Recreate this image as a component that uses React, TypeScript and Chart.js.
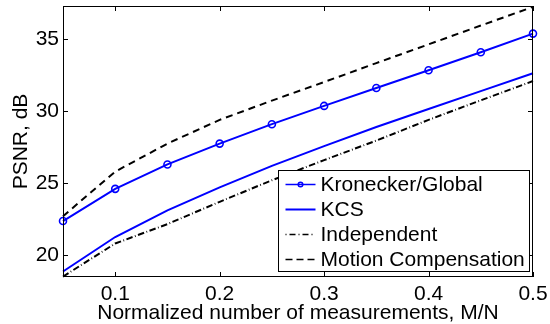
import React, { useEffect, useRef } from "react";
import { Chart, registerables } from "chart.js";

Chart.register(...registerables);

const xValues = [0.05, 0.1, 0.15, 0.2, 0.25, 0.3, 0.35, 0.4, 0.45, 0.5];
const kroneckerGlobal = [22.36, 24.6, 26.3, 27.75, 29.1, 30.37, 31.62, 32.85, 34.1, 35.4];
const kcs = [18.85, 21.25, 23.1, 24.7, 26.2, 27.57, 28.9, 30.16, 31.4, 32.64];
const independent = [18.5, 20.8, 22.15, 23.7, 25.2, 26.6, 27.96, 29.4, 30.76, 32.1];
const motionComp = [22.7, 25.8, 27.75, 29.4, 30.74, 32.03, 33.35, 34.65, 35.96, 37.26];

const xTicks = [0.1, 0.2, 0.3, 0.4, 0.5];
const yTicks = [20, 25, 30, 35];
const seriesNames = ["Kronecker/Global", "KCS", "Independent", "Motion Compensation"];

const FONT = "'Liberation Sans', Arial, Helvetica, sans-serif";
const BLUE = "#0000ff";

const pts = (ys: number[]) => xValues.map((x, i) => ({ x, y: ys[i] }));

const matlabPlugin = {
  id: "matlabBox",
  afterDraw(chart: any) {
    const { ctx, chartArea } = chart;
    const { left, right, top, bottom } = chartArea;
    const xs = chart.scales.x;
    const ys = chart.scales.y;
    ctx.save();
    ctx.strokeStyle = "#000";
    ctx.lineWidth = 1;
    ctx.setLineDash([]);
    ctx.strokeRect(left + 0.5, top + 0.5, right - left - 1, bottom - top - 1);
    const tl = 5;
    ctx.beginPath();
    xTicks.forEach((v) => {
      const px = Math.round(xs.getPixelForValue(v)) + 0.5;
      ctx.moveTo(px, bottom);
      ctx.lineTo(px, bottom - tl);
      ctx.moveTo(px, top);
      ctx.lineTo(px, top + tl);
    });
    yTicks.forEach((v) => {
      const py = Math.round(ys.getPixelForValue(v)) + 0.5;
      ctx.moveTo(left, py);
      ctx.lineTo(left + tl, py);
      ctx.moveTo(right, py);
      ctx.lineTo(right - tl, py);
    });
    ctx.stroke();

    // legend
    const lw = 251;
    const lh = 101;
    const lx = Math.round(right - 4 - lw) + 0.5;
    const ly = Math.round(bottom - 6 - lh) + 0.5;
    ctx.fillStyle = "#fff";
    ctx.fillRect(lx, ly, lw, lh);
    ctx.strokeStyle = "#000";
    ctx.lineWidth = 1;
    ctx.strokeRect(lx, ly, lw, lh);
    const rowY = (i: number) => ly + 14 + i * 25;
    const x0 = lx + 7;
    const x1 = lx + 37;
    ctx.font = `21px ${FONT}`;
    ctx.textBaseline = "middle";
    ctx.textAlign = "left";
    seriesNames.forEach((name, i) => {
      const y = rowY(i);
      ctx.save();
      ctx.beginPath();
      if (i === 0) {
        ctx.strokeStyle = BLUE;
        ctx.lineWidth = 1.5;
        ctx.setLineDash([]);
      } else if (i === 1) {
        ctx.strokeStyle = BLUE;
        ctx.lineWidth = 2;
        ctx.setLineDash([]);
      } else if (i === 2) {
        ctx.strokeStyle = "#000";
        ctx.lineWidth = 1.4;
        ctx.setLineDash([1, 3, 6, 3]);
      } else {
        ctx.strokeStyle = "#000";
        ctx.lineWidth = 1.5;
        ctx.setLineDash([7, 4]);
      }
      ctx.moveTo(x0, y);
      ctx.lineTo(x1, y);
      ctx.stroke();
      if (i === 0) {
        ctx.setLineDash([]);
        ctx.beginPath();
        ctx.arc((x0 + x1) / 2, y, 2.3, 0, Math.PI * 2);
        ctx.stroke();
      }
      ctx.restore();
      ctx.fillStyle = "#000";
      ctx.fillText(name, x1 + 5, y + 1);
    });
    ctx.restore();
  },
};

export default function App() {
  const ref = useRef<HTMLCanvasElement | null>(null);
  useEffect(() => {
    if (!ref.current) return;
    const chart = new Chart(ref.current, {
      type: "line",
      data: {
        datasets: [
          {
            label: seriesNames[3],
            data: pts(motionComp),
            borderColor: "#000",
            borderWidth: 2,
            borderDash: [7, 5],
            pointRadius: 0,
            fill: false,
            clip: false as any,
          },
          {
            label: seriesNames[2],
            data: pts(independent),
            borderColor: "#000",
            borderWidth: 2,
            borderDash: [6.5, 2.5, 0.8, 2.5],
            pointRadius: 0,
            fill: false,
            clip: false as any,
          },
          {
            label: seriesNames[1],
            data: pts(kcs),
            borderColor: BLUE,
            borderWidth: 2,
            pointRadius: 0,
            fill: false,
            clip: false as any,
          },
          {
            label: seriesNames[0],
            data: pts(kroneckerGlobal),
            borderColor: BLUE,
            borderWidth: 2,
            pointRadius: 3.5,
            pointBorderWidth: 1.6,
            pointBorderColor: BLUE,
            pointBackgroundColor: "rgba(0,0,0,0)",
            fill: false,
            clip: false as any,
          },
        ],
      },
      options: {
        responsive: false,
        animation: false,
        devicePixelRatio: 1,
        layout: { padding: { left: 0, right: 17, top: 6, bottom: 0 } },
        plugins: {
          legend: { display: false },
          tooltip: { enabled: false },
        },
        elements: { line: { tension: 0 } },
        scales: {
          x: {
            type: "linear",
            min: 0.05,
            max: 0.5,
            grid: { display: false, drawTicks: false },
            border: { display: false },
            afterBuildTicks: (s: any) => {
              s.ticks = xTicks.map((v) => ({ value: v }));
            },
            afterFit: (s: any) => {
              s.height = 47;
              s.paddingLeft = 0;
              s.paddingRight = 0;
            },
            ticks: {
              color: "#000",
              font: { family: FONT, size: 21 },
              padding: 5,
              maxRotation: 0,
              autoSkip: false,
              callback: (v: any) => String(v),
            },
            title: {
              display: true,
              text: "Normalized number of measurements, M/N",
              color: "#000",
              font: { family: FONT, size: 21, lineHeight: 1 },
              padding: { top: 0, bottom: 0 },
            },
          },
          y: {
            type: "linear",
            min: 18.47,
            max: 37.32,
            grid: { display: false, drawTicks: false },
            border: { display: false },
            afterBuildTicks: (s: any) => {
              s.ticks = yTicks.map((v) => ({ value: v }));
            },
            afterFit: (s: any) => {
              s.width = 63;
              s.paddingTop = 0;
              s.paddingBottom = 0;
            },
            ticks: {
              color: "#000",
              font: { family: FONT, size: 21 },
              padding: 4,
              autoSkip: false,
              callback: (v: any) => String(v),
            },
            title: {
              display: true,
              text: "PSNR, dB",
              color: "#000",
              font: { family: FONT, size: 21, lineHeight: 1 },
              padding: { top: 11, bottom: 0 },
            },
          },
        },
      },
      plugins: [matlabPlugin],
    });
    return () => chart.destroy();
  }, []);
  return (
    <canvas
      ref={ref}
      width={550}
      height={324}
      style={{ position: "fixed", left: 0, top: 0, width: 550, height: 324, background: "#fff" }}
    />
  );
}
